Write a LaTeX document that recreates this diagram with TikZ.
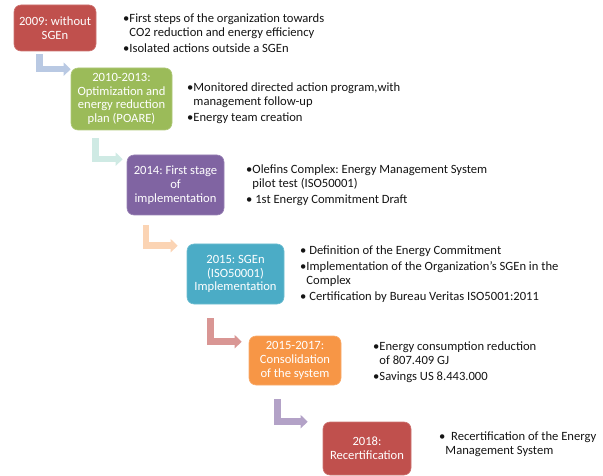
\documentclass[tikz,border=0pt]{standalone}
\usepackage{fontspec}
\setmainfont{Carlito}
\usetikzlibrary{arrows.meta,calc}
\definecolor{stagered}{RGB}{192,80,77}
\definecolor{stagegreen}{RGB}{155,187,89}
\definecolor{stagepurple}{RGB}{128,100,162}
\definecolor{stageteal}{RGB}{75,172,198}
\definecolor{stageorange}{RGB}{247,150,70}
\definecolor{arrowblue}{RGB}{185,201,227}
\definecolor{arrowmint}{RGB}{207,234,228}
\definecolor{arrowpeach}{RGB}{251,212,180}
\definecolor{arrowrose}{RGB}{217,150,148}
\definecolor{arrowlilac}{RGB}{179,162,199}
\definecolor{darktext}{RGB}{20,20,20}
\tikzset{
stagebox/.style={rounded corners=7pt, draw=#1!80!white, fill=#1, line width=0.6pt,
  text=white, align=center, inner sep=2pt, font=\fontsize{12.6}{13.8}\selectfont},
bulletlist/.style={anchor=north west, inner sep=0pt, align=left, text=darktext,
  font=\fontsize{12.6}{14}\selectfont},
flowarrow/.style={draw=#1, line width=6.5pt, -{Triangle[length=7pt,width=13pt]}}
}
\newcommand{\contline}{\phantom{•}}
\frenchspacing

\begin{document}
\begin{tikzpicture}[x=1pt,y=-1pt]

\useasboundingbox (0,0) rectangle (603,476);

% stage boxes
\node[stagebox=stagered, minimum width=82pt, minimum height=46pt] (b1) at (55,28)
{2009: without\\SGEn};
\node[stagebox=stagegreen, minimum width=101pt, minimum height=62pt] (b2) at (121.5,99)
{2010-2013:\\Optimization and\\energy reduction\\plan (POARE)};
\node[stagebox=stagepurple, minimum width=97pt, minimum height=60pt] (b3) at (175.5,185)
{2014: First stage\\of\\implementation};
\node[stagebox=stageteal, minimum width=97pt, minimum height=60pt] (b4) at (235.5,274)
{2015: SGEn\\(ISO50001)\\Implementation};
\node[stagebox=stageorange, minimum width=92pt, minimum height=49pt] (b5) at (295,360.5)
{2015-2017:\\Consolidation\\of the system};
\node[stagebox=stagered, minimum width=88pt, minimum height=53pt] (b6) at (367,448.5)
{2018:\\Recertification};

% bent arrows between stages
\coordinate (a1) at ([xshift=26pt,yshift=-3pt]b1.south west);
\coordinate (a2) at ([xshift=25pt,yshift=-8pt]b2.south west);
\coordinate (a3) at ([xshift=19.5pt,yshift=-10pt]b3.south west);
\coordinate (a4) at ([xshift=24pt,yshift=-14pt]b4.south west);
\coordinate (a5) at ([xshift=29pt,yshift=-14pt]b5.south west);

\draw[flowarrow=arrowblue] (a1) |- ([yshift=-1.5pt]b2.north west);
\draw[flowarrow=arrowmint] (a2) |- ([xshift=-4pt,yshift=-4.5pt]b3.north west);
\draw[flowarrow=arrowpeach] (a3) |- ([xshift=-9pt,yshift=-2pt]b4.north west);
\draw[flowarrow=arrowrose] (a4) |- ([xshift=-7pt,yshift=-6pt]b5.north west);
\draw[flowarrow=arrowlilac] (a5) |- ([xshift=-15pt,yshift=0pt]b6.north west);

% bullet lists
\node[bulletlist] (l1) at (123,14)
{•First steps of the organization towards\\
\contline CO2 reduction and energy efficiency\\[2pt]
•Isolated actions outside a SGEn};

\node[bulletlist] (l2) at (187,83)
{•Monitored directed action program,with\\
\contline management follow-up\\[2pt]
•Energy team creation};

\node[bulletlist] (l3) at (246,165)
{•Olefins Complex: Energy Management System\\
\contline pilot test (ISO50001)\\[2pt]
• 1st Energy Commitment Draft};

\node[bulletlist] (l4) at (300,246)
{• Definition of the Energy Commitment\\[2pt]
•Implementation of the Organization's SGEn in the\\
\contline Complex\\[2pt]
• Certification by Bureau Veritas ISO5001:2011};

\node[bulletlist] (l5) at (373,342)
{•Energy consumption reduction\\
\contline of 807.409 GJ\\[2pt]
•Savings US 8.443.000};

\node[bulletlist] (l6) at (439,431.5)
{•\ \ Recertification of the Energy\\
\contline Management System};

\end{tikzpicture}
\end{document}
